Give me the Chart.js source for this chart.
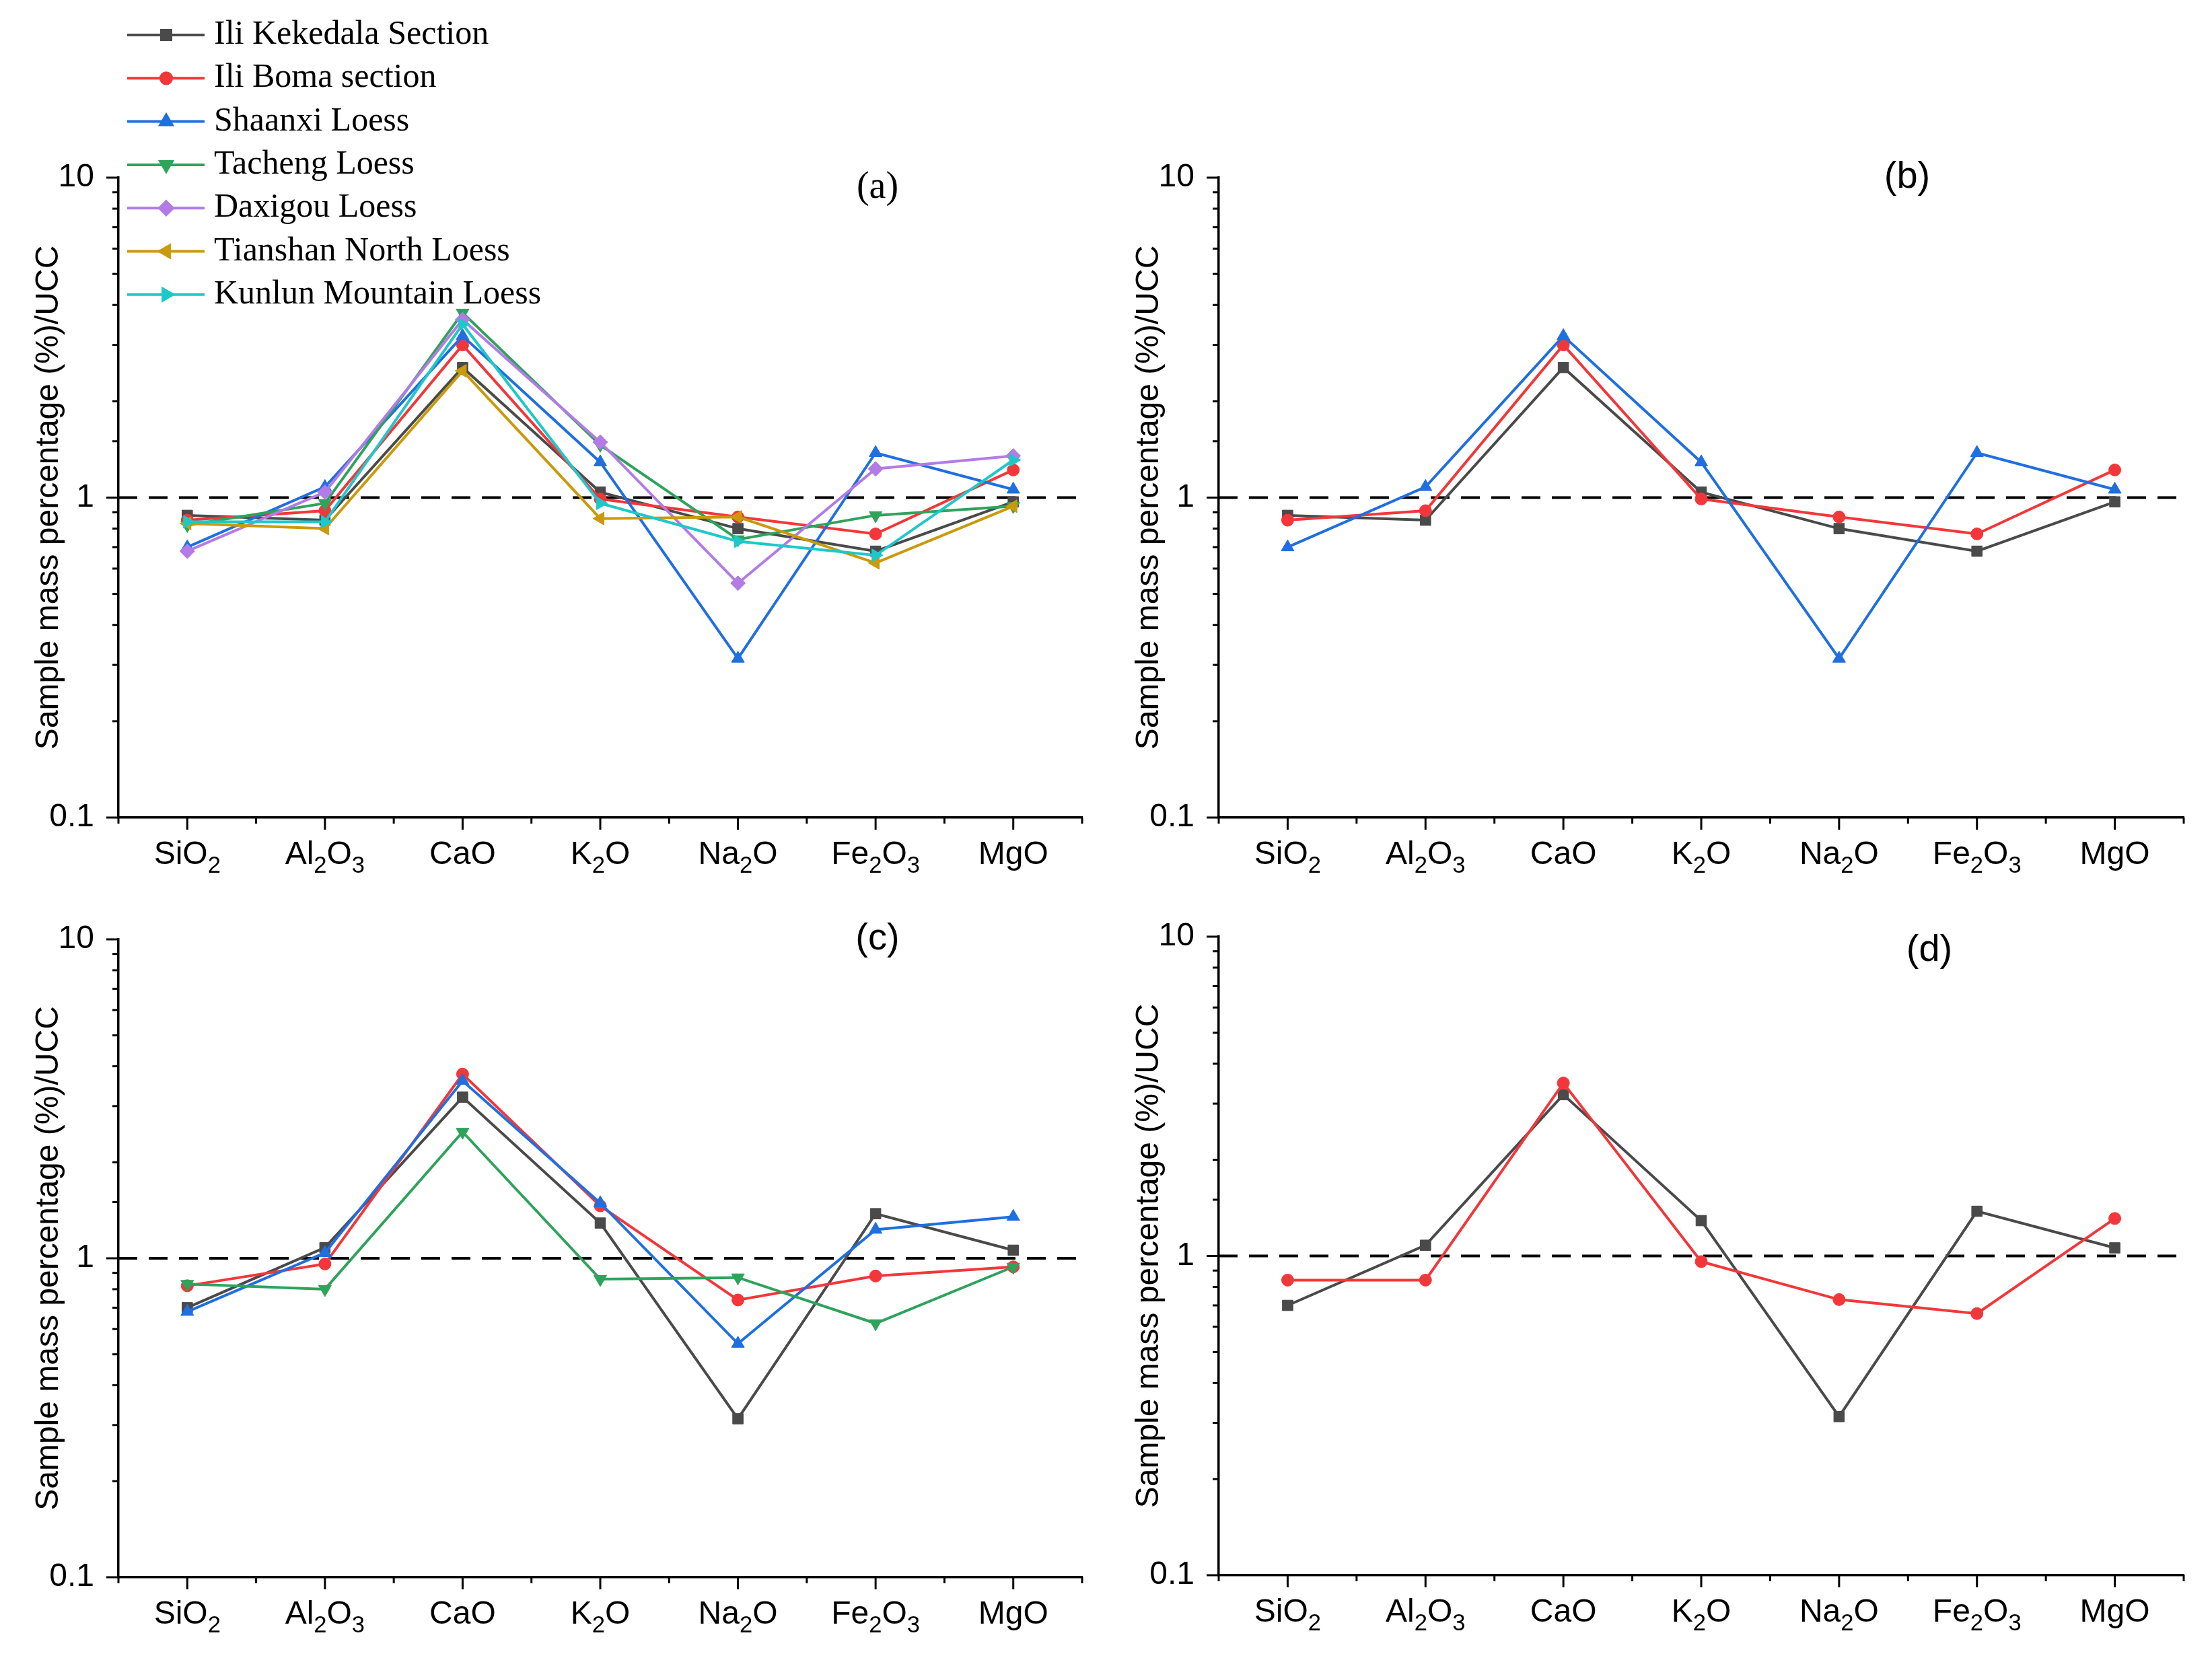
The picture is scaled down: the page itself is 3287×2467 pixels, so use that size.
<!DOCTYPE html>
<html>
<head>
<meta charset="utf-8">
<script src="https://cdn.jsdelivr.net/npm/chart.js@4.4.0/dist/chart.umd.min.js"></script>
<style>
  html, body { margin: 0; padding: 0; background: #fff; }
  body { width: 3287px; height: 2467px; position: relative; overflow: hidden; }
  canvas { position: absolute; }
</style>
</head>
<body>
<canvas id="pa"></canvas>
<canvas id="pb"></canvas>
<canvas id="pc"></canvas>
<canvas id="pd"></canvas>
<script>
// oxides on the x axis
const oxides = ["SiO2", "Al2O3", "CaO", "K2O", "Na2O", "Fe2O3", "MgO"];
const yTicks = [0.1, 1, 10];

// sample / UCC ratios
const kekedala = [0.88, 0.85, 2.55, 1.04, 0.80, 0.68, 0.97];
const boma     = [0.85, 0.91, 3.00, 0.99, 0.87, 0.77, 1.22];
const shaanxi  = [0.70, 1.08, 3.20, 1.29, 0.314, 1.38, 1.06];
const tacheng  = [0.82, 0.96, 3.78, 1.46, 0.74, 0.88, 0.94];
const daxigou  = [0.68, 1.04, 3.60, 1.49, 0.54, 1.23, 1.35];
const tianshan = [0.83, 0.80, 2.49, 0.86, 0.87, 0.625, 0.94];
const kunlun   = [0.84, 0.84, 3.48, 0.96, 0.73, 0.66, 1.31];

const panelA = [["Ili Kekedala Section", kekedala], ["Ili Boma section", boma], ["Shaanxi Loess", shaanxi],
  ["Tacheng Loess", tacheng], ["Daxigou Loess", daxigou], ["Tianshan North Loess", tianshan], ["Kunlun Mountain Loess", kunlun]];
const panelB = [["Ili Kekedala Section", kekedala], ["Ili Boma section", boma], ["Shaanxi Loess", shaanxi]];
const panelC = [["Shaanxi Loess", shaanxi], ["Tacheng Loess", tacheng], ["Daxigou Loess", daxigou], ["Tianshan North Loess", tianshan]];
const panelD = [["Shaanxi Loess", shaanxi], ["Kunlun Mountain Loess", kunlun]];

// Origin-like default plot styles, in order
const styles = [
  { color: "#4a4a4a", point: "rect", rot: 0, r: 11 },
  { color: "#f2373a", point: "circle", rot: 0, r: 9 },
  { color: "#1f6fe0", point: "triangle", rot: 0, r: 11 },
  { color: "#2ea35c", point: "triangle", rot: 180, r: 11 },
  { color: "#b37be6", point: "rectRot", rot: 0, r: 11 },
  { color: "#c99a0a", point: "triangle", rot: -90, r: 11 },
  { color: "#1ec8c8", point: "triangle", rot: 90, r: 11 }
];

const SANS = "Liberation Sans";
const SERIF = "Liberation Serif";

const panels = [
  { id: "pa", cv: [0, 0, 1643, 1320], area: [176, 264, 1608, 1215], series: panelA,
    leg: { x0: 189, x1: 304, mx: 247, tx: 318, y0: 52, dy: 64.3 }, tag: "(a)", tagPos: [1304, 279], tagFont: SERIF },
  { id: "pb", cv: [1643, 0, 1644, 1320], area: [1811, 264, 3245, 1215], series: panelB,
    leg: { x0: 1835, x1: 1950, mx: 1892, tx: 1964, y0: 257, dy: 76 }, tag: "(b)", tagPos: [2834, 264], tagFont: SANS },
  { id: "pc", cv: [0, 1320, 1643, 1147], area: [176, 1396, 1608, 2344], series: panelC,
    leg: { x0: 200, x1: 315, mx: 257, tx: 328, y0: 1375, dy: 65 }, tag: "(c)", tagPos: [1304, 1396], tagFont: SANS },
  { id: "pd", cv: [1643, 1320, 1644, 1147], area: [1811, 1392, 3245, 2341], series: panelD,
    leg: { x0: 1835, x1: 1950, mx: 1892, tx: 1964, y0: 1380, dy: 75 }, tag: "(d)", tagPos: [2867, 1413], tagFont: SANS }
];

function isMajor(v) {
  return yTicks.some(t => Math.abs(t - v) < 1e-9);
}

function drawFormula(ctx, text, cx, baseline, size) {
  const parts = text.match(/[A-Za-z]+|\d+/g);
  const sub = size * 0.72;
  let w = 0;
  parts.forEach(p => {
    ctx.font = (/\d/.test(p) ? sub : size) + 'px "' + SANS + '"';
    w += ctx.measureText(p).width;
  });
  let x = cx - w / 2;
  ctx.textAlign = "left";
  ctx.textBaseline = "alphabetic";
  parts.forEach(p => {
    const isSub = /\d/.test(p);
    ctx.font = (isSub ? sub : size) + 'px "' + SANS + '"';
    ctx.fillText(p, x, baseline + (isSub ? size * 0.28 : 0));
    x += ctx.measureText(p).width;
  });
}

const decor = {
  id: "decor",
  beforeDatasetsDraw(chart) {
    const { ctx, chartArea } = chart;
    const y = chart.scales.y.getPixelForValue(1);
    ctx.save();
    ctx.strokeStyle = "#000";
    ctx.lineWidth = 4;
    ctx.setLineDash([28, 17]);
    ctx.beginPath();
    ctx.moveTo(chartArea.left, y);
    ctx.lineTo(chartArea.right, y);
    ctx.stroke();
    ctx.restore();
  },
  afterDraw(chart) {
    const { ctx, chartArea } = chart;
    const p = chart.options.plugins.decor;
    const xs = chart.scales.x, ys = chart.scales.y;
    ctx.save();
    ctx.strokeStyle = "#000";
    ctx.lineWidth = 3;
    // y ticks, outward
    ys.ticks.forEach(t => {
      const py = ys.getPixelForValue(t.value);
      const len = isMajor(t.value) ? 18 : 9;
      ctx.beginPath();
      ctx.moveTo(chartArea.left - len, py);
      ctx.lineTo(chartArea.left, py);
      ctx.stroke();
    });
    // x ticks: major at categories, minor at boundaries
    const step = xs.getPixelForValue(1) - xs.getPixelForValue(0);
    for (let i = 0; i <= oxides.length; i++) {
      const bx = xs.getPixelForValue(0) + (i - 0.5) * step;
      ctx.beginPath();
      ctx.moveTo(bx, chartArea.bottom);
      ctx.lineTo(bx, chartArea.bottom + 9);
      ctx.stroke();
    }
    ctx.fillStyle = "#000";
    oxides.forEach((lab, i) => {
      const px = xs.getPixelForValue(i);
      ctx.beginPath();
      ctx.moveTo(px, chartArea.bottom);
      ctx.lineTo(px, chartArea.bottom + 18);
      ctx.stroke();
      drawFormula(ctx, lab, px, chartArea.bottom + 69, 48);
    });

    // legend
    const L = p.leg;
    chart.data.datasets.forEach((ds, i) => {
      const y = L.y0 + i * L.dy;
      const st = styles[i];
      ctx.strokeStyle = st.color;
      ctx.fillStyle = st.color;
      ctx.lineWidth = 4;
      ctx.setLineDash([]);
      ctx.beginPath();
      ctx.moveTo(L.x0, y);
      ctx.lineTo(L.x1, y);
      ctx.stroke();
      Chart.helpers.drawPoint(ctx, { pointStyle: st.point, rotation: st.rot, radius: st.r * 0.9, borderWidth: 1 }, L.mx, y);
      ctx.fillStyle = "#000";
      ctx.font = '50px "' + SERIF + '"';
      ctx.textAlign = "left";
      ctx.textBaseline = "middle";
      ctx.fillText(ds.label, L.tx, y);
    });

    // panel tag
    ctx.fillStyle = "#000";
    ctx.font = '56px "' + p.tagFont + '"';
    ctx.textAlign = "center";
    ctx.textBaseline = "middle";
    ctx.fillText(p.tag, p.tagX, p.tagY);
    ctx.restore();
  }
};

panels.forEach(pn => {
  const [cx, cy, cw, ch] = pn.cv;
  const [L, T, R, B] = pn.area;
  const canvas = document.getElementById(pn.id);
  canvas.width = cw;
  canvas.height = ch;
  canvas.style.left = cx + "px";
  canvas.style.top = cy + "px";
  canvas.style.width = cw + "px";
  canvas.style.height = ch + "px";

  const n = pn.series.length;
  const datasets = pn.series.map(([name, vals], i) => {
    const st = styles[i];
    return {
      label: name,
      data: vals,
      borderColor: st.color,
      backgroundColor: st.color,
      borderWidth: 4,
      pointStyle: st.point,
      pointRotation: st.rot,
      pointRadius: st.r,
      pointBorderWidth: 1,
      tension: 0,
      fill: false,
      order: n - i
    };
  });

  const titleSize = 48;
  const titlePad = (L - 103) - cx - titleSize * 1.2 / 2;

  new Chart(canvas, {
    type: "line",
    data: { labels: oxides, datasets: datasets },
    options: {
      responsive: false,
      animation: false,
      devicePixelRatio: 1,
      layout: { padding: { left: 0, top: T - cy, right: cx + cw - R, bottom: 0 } },
      plugins: {
        legend: { display: false },
        tooltip: { enabled: false },
        decor: { leg: pn.leg, tag: pn.tag, tagX: pn.tagPos[0] - cx, tagY: pn.tagPos[1] - cy, tagFont: pn.tagFont }
      },
      scales: {
        x: {
          type: "category",
          offset: true,
          grid: { display: false, drawTicks: false },
          border: { display: true, color: "#000", width: 3.5 },
          ticks: { display: false },
          afterFit: s => { s.height = cy + ch - B; }
        },
        y: {
          type: "logarithmic",
          min: 0.1,
          max: 10,
          grid: { display: false, drawTicks: false },
          border: { display: true, color: "#000", width: 3.5 },
          ticks: {
            autoSkip: false,
            padding: 36,
            color: "#000",
            font: { family: SANS, size: 48 },
            callback: v => isMajor(v) ? String(yTicks.find(t => Math.abs(t - v) < 1e-9)) : ""
          },
          title: {
            display: true,
            text: "Sample mass percentage (%)/UCC",
            color: "#000",
            font: { family: SANS, size: titleSize },
            padding: { top: titlePad, bottom: 0 }
          },
          afterFit: s => { s.width = L - cx; }
        }
      }
    },
    plugins: [decor]
  });
});
</script>
</body>
</html>
